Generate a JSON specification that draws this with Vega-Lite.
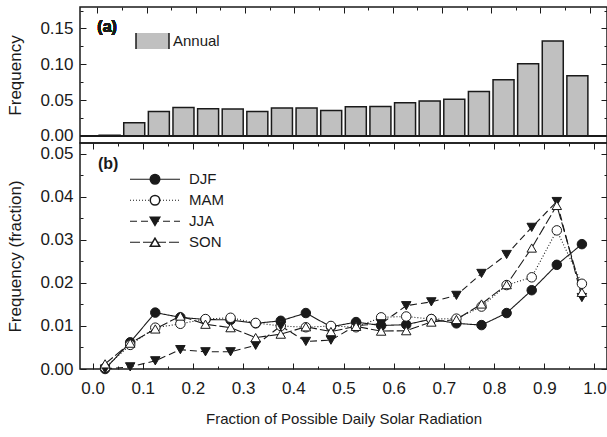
{
  "$schema": "https://vega.github.io/schema/vega-lite/v6.json",
  "autosize": {"type": "pad"},
  "padding": {"left": 5, "top": 5, "right": 0, "bottom": 9},
  "background": "white",
  "spacing": 0,
  "bounds": "flush",
  "config": {
    "font": "Liberation Sans",
    "view": {"stroke": "#1a1a1a", "strokeWidth": 1.5},
    "axis": {"domain": false, "grid": false, "tickColor": "#1a1a1a", "tickWidth": 1, "labelColor": "#1a1a1a", "titleColor": "#1a1a1a", "labelFont": "Liberation Sans", "titleFont": "Liberation Sans", "labelFontSize": 17, "titleFontSize": 17, "titleFontWeight": "normal"},
    "legend": {"labelFont": "Liberation Sans", "labelColor": "#1a1a1a", "titleFont": "Liberation Sans", "titleColor": "#1a1a1a"}
  },
  "datasets": {
    "annual": [
      {"x": 0.025, "freq": 0.0010, "series": "Annual"},
      {"x": 0.075, "freq": 0.0182, "series": "Annual"},
      {"x": 0.125, "freq": 0.0341, "series": "Annual"},
      {"x": 0.175, "freq": 0.0397, "series": "Annual"},
      {"x": 0.225, "freq": 0.0379, "series": "Annual"},
      {"x": 0.275, "freq": 0.0374, "series": "Annual"},
      {"x": 0.325, "freq": 0.0341, "series": "Annual"},
      {"x": 0.375, "freq": 0.0388, "series": "Annual"},
      {"x": 0.425, "freq": 0.0388, "series": "Annual"},
      {"x": 0.475, "freq": 0.0355, "series": "Annual"},
      {"x": 0.525, "freq": 0.0407, "series": "Annual"},
      {"x": 0.575, "freq": 0.0411, "series": "Annual"},
      {"x": 0.625, "freq": 0.0463, "series": "Annual"},
      {"x": 0.675, "freq": 0.0488, "series": "Annual"},
      {"x": 0.725, "freq": 0.0510, "series": "Annual"},
      {"x": 0.775, "freq": 0.0618, "series": "Annual"},
      {"x": 0.825, "freq": 0.0782, "series": "Annual"},
      {"x": 0.875, "freq": 0.1007, "series": "Annual"},
      {"x": 0.925, "freq": 0.1326, "series": "Annual"},
      {"x": 0.975, "freq": 0.0840, "series": "Annual"}
    ],
    "seasons": [
      {"x": 0.025, "season": "DJF", "freq": 0.0000}, {"x": 0.025, "season": "MAM", "freq": 0.0003}, {"x": 0.025, "season": "JJA", "freq": 0.0000}, {"x": 0.025, "season": "SON", "freq": 0.0012},
      {"x": 0.075, "season": "DJF", "freq": 0.0062}, {"x": 0.075, "season": "MAM", "freq": 0.0056}, {"x": 0.075, "season": "JJA", "freq": 0.0005}, {"x": 0.075, "season": "SON", "freq": 0.0060},
      {"x": 0.125, "season": "DJF", "freq": 0.0131}, {"x": 0.125, "season": "MAM", "freq": 0.0096}, {"x": 0.125, "season": "JJA", "freq": 0.0019}, {"x": 0.125, "season": "SON", "freq": 0.0093},
      {"x": 0.175, "season": "DJF", "freq": 0.0120}, {"x": 0.175, "season": "MAM", "freq": 0.0105}, {"x": 0.175, "season": "JJA", "freq": 0.0045}, {"x": 0.175, "season": "SON", "freq": 0.0123},
      {"x": 0.225, "season": "DJF", "freq": 0.0115}, {"x": 0.225, "season": "MAM", "freq": 0.0116}, {"x": 0.225, "season": "JJA", "freq": 0.0040}, {"x": 0.225, "season": "SON", "freq": 0.0104},
      {"x": 0.275, "season": "DJF", "freq": 0.0114}, {"x": 0.275, "season": "MAM", "freq": 0.0119}, {"x": 0.275, "season": "JJA", "freq": 0.0040}, {"x": 0.275, "season": "SON", "freq": 0.0096},
      {"x": 0.325, "season": "DJF", "freq": 0.0106}, {"x": 0.325, "season": "MAM", "freq": 0.0107}, {"x": 0.325, "season": "JJA", "freq": 0.0055}, {"x": 0.325, "season": "SON", "freq": 0.0073},
      {"x": 0.375, "season": "DJF", "freq": 0.0112}, {"x": 0.375, "season": "MAM", "freq": 0.0100}, {"x": 0.375, "season": "JJA", "freq": 0.0100}, {"x": 0.375, "season": "SON", "freq": 0.0081},
      {"x": 0.425, "season": "DJF", "freq": 0.0130}, {"x": 0.425, "season": "MAM", "freq": 0.0097}, {"x": 0.425, "season": "JJA", "freq": 0.0064}, {"x": 0.425, "season": "SON", "freq": 0.0098},
      {"x": 0.475, "season": "DJF", "freq": 0.0098}, {"x": 0.475, "season": "MAM", "freq": 0.0100}, {"x": 0.475, "season": "JJA", "freq": 0.0067}, {"x": 0.475, "season": "SON", "freq": 0.0087},
      {"x": 0.525, "season": "DJF", "freq": 0.0109}, {"x": 0.525, "season": "MAM", "freq": 0.0097}, {"x": 0.525, "season": "JJA", "freq": 0.0101}, {"x": 0.525, "season": "SON", "freq": 0.0099},
      {"x": 0.575, "season": "DJF", "freq": 0.0101}, {"x": 0.575, "season": "MAM", "freq": 0.0120}, {"x": 0.575, "season": "JJA", "freq": 0.0105}, {"x": 0.575, "season": "SON", "freq": 0.0088},
      {"x": 0.625, "season": "DJF", "freq": 0.0103}, {"x": 0.625, "season": "MAM", "freq": 0.0122}, {"x": 0.625, "season": "JJA", "freq": 0.0147}, {"x": 0.625, "season": "SON", "freq": 0.0089},
      {"x": 0.675, "season": "DJF", "freq": 0.0116}, {"x": 0.675, "season": "MAM", "freq": 0.0116}, {"x": 0.675, "season": "JJA", "freq": 0.0156}, {"x": 0.675, "season": "SON", "freq": 0.0109},
      {"x": 0.725, "season": "DJF", "freq": 0.0106}, {"x": 0.725, "season": "MAM", "freq": 0.0117}, {"x": 0.725, "season": "JJA", "freq": 0.0171}, {"x": 0.725, "season": "SON", "freq": 0.0115},
      {"x": 0.775, "season": "DJF", "freq": 0.0102}, {"x": 0.775, "season": "MAM", "freq": 0.0145}, {"x": 0.775, "season": "JJA", "freq": 0.0222}, {"x": 0.775, "season": "SON", "freq": 0.0151},
      {"x": 0.825, "season": "DJF", "freq": 0.0130}, {"x": 0.825, "season": "MAM", "freq": 0.0195}, {"x": 0.825, "season": "JJA", "freq": 0.0266}, {"x": 0.825, "season": "SON", "freq": 0.0196},
      {"x": 0.875, "season": "DJF", "freq": 0.0183}, {"x": 0.875, "season": "MAM", "freq": 0.0213}, {"x": 0.875, "season": "JJA", "freq": 0.0329}, {"x": 0.875, "season": "SON", "freq": 0.0281},
      {"x": 0.925, "season": "DJF", "freq": 0.0242}, {"x": 0.925, "season": "MAM", "freq": 0.0322}, {"x": 0.925, "season": "JJA", "freq": 0.0389}, {"x": 0.925, "season": "SON", "freq": 0.0380},
      {"x": 0.975, "season": "DJF", "freq": 0.0290}, {"x": 0.975, "season": "MAM", "freq": 0.0198}, {"x": 0.975, "season": "JJA", "freq": 0.0166}, {"x": 0.975, "season": "SON", "freq": 0.0178}
    ]
  },
  "resolve": {
    "scale": {"fill": "independent", "shape": "independent", "strokeDash": "independent"},
    "legend": {"fill": "independent", "shape": "independent", "strokeDash": "independent"}
  },
  "vconcat": [
    {
      "width": 527,
      "height": 136,
      "data": {"name": "annual"},
      "layer": [
        {
          "mark": {"type": "bar", "width": 21, "stroke": "#1a1a1a", "strokeWidth": 1.5},
          "encoding": {
            "x": {"field": "x", "type": "quantitative", "scale": {"domain": [-0.025, 1.025], "nice": false, "zero": false}, "axis": null},
            "y": {"field": "freq", "type": "quantitative", "scale": {"domain": [-0.01, 0.18], "nice": false, "zero": false},
                  "axis": {"orient": "left", "values": [0, 0.05, 0.1, 0.15], "format": ".2f", "offset": -6, "tickSize": 6, "labelPadding": 7, "title": "Frequency", "titleX": -62}},
            "fill": {"field": "series", "type": "nominal", "scale": {"range": ["#c0c0c0"]},
                     "legend": {"orient": "none", "legendX": 55, "legendY": 26, "title": null, "symbolSize": 1089, "clipHeight": 16, "labelOffset": 3, "labelFontSize": 15, "padding": 0,
                                "encode": {"symbols": {"update": {"shape": {"value": "M-1,-0.3L1,-0.3L1,0.3L-1,0.3Z"}, "fill": {"value": "#c0c0c0"}, "stroke": {"value": "#1a1a1a"}, "strokeWidth": {"value": 1.5}, "size": {"value": 1089}, "opacity": {"value": 1}}}}}}
          }
        },
        {
          "mark": {"type": "rule", "color": "#1a1a1a", "strokeWidth": 1.2},
          "encoding": {"y": {"datum": 0, "type": "quantitative", "axis": null}}
        },
        {
          "mark": {"type": "text", "text": "(a)", "fontSize": 16, "fontWeight": "bold", "align": "left", "baseline": "middle", "color": "#1a1a1a", "font": "Liberation Sans"},
          "encoding": {
            "x": {"datum": 0.0, "type": "quantitative", "axis": null},
            "y": {"datum": 0.152, "type": "quantitative", "axis": null}
          }
        },
        {
          "mark": {"type": "point", "opacity": 0},
          "encoding": {
            "x": {"field": "x", "type": "quantitative", "axis": {"orient": "top", "values": [0, 0.1, 0.2, 0.3, 0.4, 0.5, 0.6, 0.7, 0.8, 0.9, 1], "labels": false, "offset": -6, "tickSize": 6, "title": null}},
            "y": {"field": "freq", "type": "quantitative", "axis": {"orient": "left", "values": [0.025, 0.075, 0.125, 0.175], "labels": false, "offset": -3, "tickSize": 3, "title": null}}
          }
        },
        {
          "mark": {"type": "point", "opacity": 0},
          "encoding": {
            "x": {"field": "x", "type": "quantitative", "axis": {"orient": "top", "values": [0.05, 0.15, 0.25, 0.35, 0.45, 0.55, 0.65, 0.75, 0.85, 0.95], "labels": false, "offset": -3, "tickSize": 3, "title": null}},
            "y": {"field": "freq", "type": "quantitative", "axis": {"orient": "right", "values": [0, 0.05, 0.1, 0.15], "labels": false, "offset": -6, "tickSize": 6, "title": null}}
          }
        },
        {
          "mark": {"type": "point", "opacity": 0},
          "encoding": {
            "x": {"field": "x", "type": "quantitative", "axis": null},
            "y": {"field": "freq", "type": "quantitative", "axis": {"orient": "right", "values": [0.025, 0.075, 0.125, 0.175], "labels": false, "offset": -3, "tickSize": 3, "title": null}}
          }
        }
      ],
      "resolve": {"axis": {"x": "independent", "y": "independent"}}
    },
    {
      "width": 527,
      "height": 226,
      "data": {"name": "seasons"},
      "layer": [
        {
          "mark": {"type": "line", "strokeWidth": 1.1, "color": "#1a1a1a"},
          "encoding": {
            "x": {"field": "x", "type": "quantitative", "scale": {"domain": [-0.025, 1.025], "nice": false, "zero": false},
                  "axis": {"orient": "bottom", "values": [0, 0.1, 0.2, 0.3, 0.4, 0.5, 0.6, 0.7, 0.8, 0.9, 1], "format": ".1f", "offset": -6, "tickSize": 6, "labelPadding": 11, "title": "Fraction of Possible Daily Solar Radiation", "titleFontSize": 15, "titlePadding": 15}},
            "y": {"field": "freq", "type": "quantitative", "scale": {"domain": [0, 0.0525], "nice": false, "zero": false},
                  "axis": {"orient": "left", "values": [0, 0.01, 0.02, 0.03, 0.04, 0.05], "format": ".2f", "offset": -6, "tickSize": 6, "labelPadding": 7, "title": "Frequency (fraction)", "titleX": -62}},
            "strokeDash": {"field": "season", "type": "nominal", "sort": ["DJF", "MAM", "JJA", "SON"], "scale": {"range": [[1, 0], [1, 2], [7, 4], [10, 3]]},
                           "legend": {"orient": "none", "legendX": 18, "legendY": 13, "title": "(b)", "titleFontSize": 16, "titleFontWeight": "bold", "titleAnchor": "start", "titleBaseline": "top", "titlePadding": -3,
                                      "symbolType": "stroke", "symbolSize": 2500, "symbolStrokeColor": "#1a1a1a", "symbolStrokeWidth": 1.1, "symbolOffset": 31, "clipHeight": 20.5, "rowPadding": 0, "labelOffset": 8, "labelFontSize": 15, "padding": 0}}
          }
        },
        {
          "mark": {"type": "point", "filled": true, "size": 90, "stroke": "#1a1a1a", "strokeWidth": 1, "opacity": 1},
          "encoding": {
            "x": {"field": "x", "type": "quantitative", "axis": {"orient": "bottom", "values": [0.05, 0.15, 0.25, 0.35, 0.45, 0.55, 0.65, 0.75, 0.85, 0.95], "labels": false, "offset": -3, "tickSize": 3, "title": null}},
            "y": {"field": "freq", "type": "quantitative", "axis": {"orient": "left", "values": [0.005, 0.015, 0.025, 0.035, 0.045], "labels": false, "offset": -3, "tickSize": 3, "title": null}},
            "shape": {"field": "season", "type": "nominal", "scale": {"domain": ["DJF", "MAM", "JJA", "SON"], "range": ["circle", "circle", "triangle-down", "triangle-up"]},
                      "legend": {"orient": "none", "legendX": 67.5, "legendY": 26, "title": null, "symbolSize": 90, "clipHeight": 20.5, "rowPadding": 0, "labelFontSize": 15, "labelExpr": "''", "padding": 0,
                                 "encode": {"symbols": {"update": {"stroke": {"value": "#1a1a1a"}, "strokeWidth": {"value": 1}, "opacity": {"value": 1}}}}}},
            "fill": {"field": "season", "type": "nominal", "scale": {"domain": ["DJF", "MAM", "JJA", "SON"], "range": ["#1a1a1a", "#ffffff", "#1a1a1a", "#ffffff"]}}
          }
        },
        {
          "mark": {"type": "point", "opacity": 0},
          "encoding": {
            "x": {"field": "x", "type": "quantitative", "axis": {"orient": "top", "values": [0, 0.1, 0.2, 0.3, 0.4, 0.5, 0.6, 0.7, 0.8, 0.9, 1], "labels": false, "offset": -6, "tickSize": 6, "title": null}},
            "y": {"field": "freq", "type": "quantitative", "axis": {"orient": "right", "values": [0, 0.01, 0.02, 0.03, 0.04, 0.05], "labels": false, "offset": -6, "tickSize": 6, "title": null}}
          }
        },
        {
          "mark": {"type": "point", "opacity": 0},
          "encoding": {
            "x": {"field": "x", "type": "quantitative", "axis": {"orient": "top", "values": [0.05, 0.15, 0.25, 0.35, 0.45, 0.55, 0.65, 0.75, 0.85, 0.95], "labels": false, "offset": -3, "tickSize": 3, "title": null}},
            "y": {"field": "freq", "type": "quantitative", "axis": {"orient": "right", "values": [0.005, 0.015, 0.025, 0.035, 0.045], "labels": false, "offset": -3, "tickSize": 3, "title": null}}
          }
        }
      ],
      "resolve": {"axis": {"x": "independent", "y": "independent"}}
    }
  ]
}
